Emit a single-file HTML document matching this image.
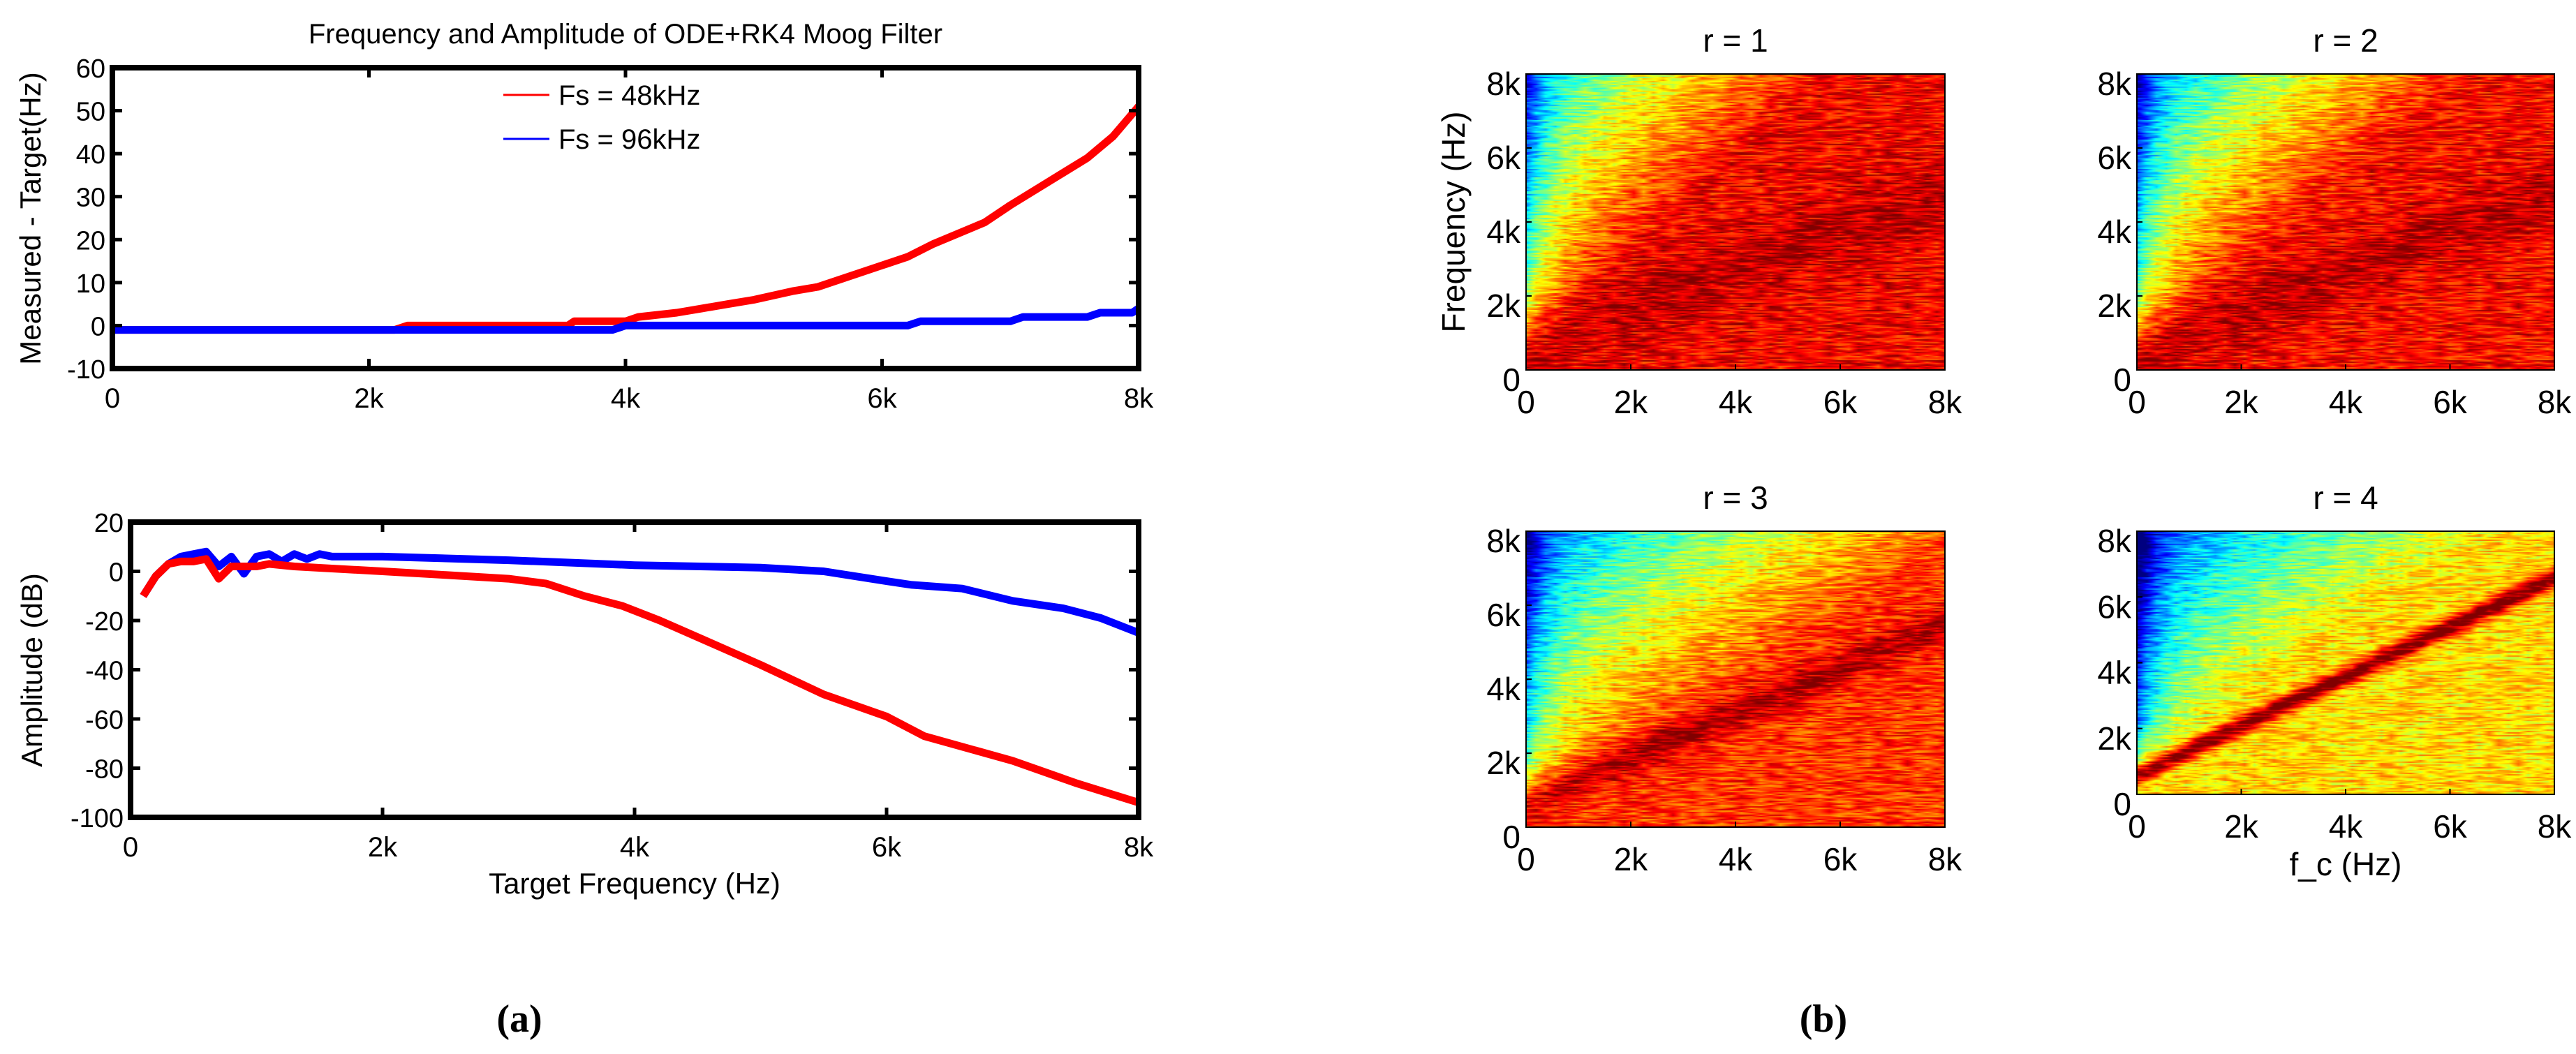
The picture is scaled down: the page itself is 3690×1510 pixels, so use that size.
<!DOCTYPE html>
<html><head><meta charset="utf-8">
<style>
html,body{margin:0;padding:0;background:#fff;}
#root{position:relative;width:3690px;height:1510px;overflow:hidden;background:#fff;font-family:"Liberation Sans",sans-serif;}
canvas{position:absolute;}
svg{position:absolute;left:0;top:0;}
</style></head>
<body>
<div id="root">
<canvas id="c1"></canvas>
<canvas id="c2"></canvas>
<canvas id="c3"></canvas>
<canvas id="c4"></canvas>
<svg id="svg" width="3690" height="1510" xmlns="http://www.w3.org/2000/svg"></svg>
</div>
<script>
// ---- chart (a) top: Measured - Target ----
const topX48 = [0,2.2,2.3,3.55,3.6,4.0,4.1,4.4,4.6,4.8,5.0,5.3,5.5,6.0,6.2,6.4,6.8,7.0,7.6,7.8,8.0];
const topY48 = [-1,-1,0,0,1,1,2,3,4,5,6,8,9,14,16,19,24,28,39,44,51];
const topX96 = [0,3.9,4.0,6.2,6.3,7.0,7.1,7.6,7.7,7.95,8.0];
const topY96 = [-1,-1,0,0,1,1,2,2,3,3,4];
const topYTicks = [60,50,40,30,20,10,0,-10];
const xTicks = [0,2,4,6,8];
const xTickLabels = ["0","2k","4k","6k","8k"];
// ---- chart (a) bottom: Amplitude ----
const botX48 = [0.1,0.2,0.3,0.4,0.5,0.6,0.7,0.8,1.0,1.1,1.3,2.0,2.5,3.0,3.3,3.6,3.9,4.2,4.6,5.0,5.5,6.0,6.3,7.0,7.5,8.0];
const botY48 = [-10,-2,3,4,4,5,-3,2,2,3,2,0,-1.5,-3,-5,-10,-14,-20,-29,-38,-50,-59,-67,-77,-86,-94];
const botX96 = [0.1,0.2,0.3,0.4,0.5,0.6,0.7,0.8,0.9,1.0,1.1,1.2,1.3,1.4,1.5,1.6,2.0,3.0,4.0,5.0,5.5,6.0,6.2,6.6,7.0,7.4,7.7,8.0];
const botY96 = [-10,-2,3,6,7,8,2,6,-1,6,7,4,7,5,7,6,6,4.5,2.5,1.5,0,-4,-5.5,-7,-12,-15,-19,-25];
const botYTicks = [20,0,-20,-40,-60,-80,-100];
// ---- chart (b): spectrogram model parameters per r ----
const rValues = [1,2,3,4];
const ridgeOffset = [0.8,0.5,0.7,0.6];
const ridgeSlope = [0.5,0.55,0.6,0.75];
const ridgeAmp = [0.06,0.07,0.14,0.36];
const ridgeWidth = [1.0,0.9,0.5,0.3];
const baseHigh = [0.88,0.87,0.82,0.66];
const edgeOffset = [0.5,0.3,0.3,1.0];
const edgeSlope = [1.3,1.2,0.9,1.0];
const aboveFall = [0.065,0.07,0.07,0.06];
const blueStrength = [0.3,0.3,0.3,0.35];
const specTicks = [0,2,4,6,8];

const svg = document.getElementById('svg');
const NS = 'http://www.w3.org/2000/svg';
function mk(tag, attrs, parent){ const e=document.createElementNS(NS,tag); for(const k in attrs) e.setAttribute(k,attrs[k]); (parent||svg).appendChild(e); return e; }
function txt(s, attrs){ const e=mk('text',attrs); e.textContent=s; return e; }

function lineChart(box, ymin, ymax, yTicks, series, name){
  const sx = v => box.l + (v/8)*(box.r-box.l);
  const sy = v => box.b - (v-ymin)/(ymax-ymin)*(box.b-box.t);
  const g = mk('g',{});
  
  
  series.forEach(s=>{
    const pts = s.x.map((x,i)=>sx(x).toFixed(1)+','+sy(s.y[i]).toFixed(1)).join(' ');
    const p = mk('polyline',{points:pts,fill:'none',stroke:s.c,'stroke-width':11,'stroke-linejoin':'round'},g);
    
    
  });
  xTicks.forEach((t,i)=>{
    const x=sx(t);
    mk('line',{x1:x,x2:x,y1:box.b,y2:box.b-14,stroke:'#000','stroke-width':5},g);
    mk('line',{x1:x,x2:x,y1:box.t,y2:box.t+14,stroke:'#000','stroke-width':5},g);
    const e=txt(xTickLabels[i],{x:x,y:box.b+56,'font-size':40,'text-anchor':'middle'});
    
    
  });
  yTicks.forEach(t=>{
    const y=sy(t);
    mk('line',{x1:box.l,x2:box.l+14,y1:y,y2:y,stroke:'#000','stroke-width':5},g);
    mk('line',{x1:box.r,x2:box.r-14,y1:y,y2:y,stroke:'#000','stroke-width':5},g);
    const e=txt(String(t),{x:box.l-10,y:y+14,'font-size':38,'text-anchor':'end'});
    
    
  });
  mk('rect',{x:box.l,y:box.t,width:box.r-box.l,height:box.b-box.t,fill:'none',stroke:'#000','stroke-width':8},g);
}

const t1=txt('Frequency and Amplitude of ODE+RK4 Moog Filter',{x:896,y:62,'font-size':40,'text-anchor':'middle'});



lineChart({l:161,r:1631,t:97,b:528},-10,60,topYTicks,[
  {x:topX48,y:topY48,c:'#ff0000',n:'line-48khz'},
  {x:topX96,y:topY96,c:'#0000ff',n:'line-96khz'}],'frequency-error-plot');
lineChart({l:187,r:1631,t:748,b:1171},-100,20,botYTicks,[
  {x:botX96,y:botY96,c:'#0000ff',n:'amp-line-96khz'},
  {x:botX48,y:botY48,c:'#ff0000',n:'amp-line-48khz'}],'amplitude-plot');

// legend
const lg = mk('g',{});


mk('line',{x1:721,x2:787,y1:136,y2:136,stroke:'#ff0000','stroke-width':3},lg);
mk('line',{x1:721,x2:787,y1:199,y2:199,stroke:'#0000ff','stroke-width':3},lg);
const l1=txt('Fs = 48kHz',{x:800,y:150,'font-size':40}); lg.appendChild(l1);


const l2=txt('Fs = 96kHz',{x:800,y:213,'font-size':40}); lg.appendChild(l2);



const ya=txt('Measured - Target(Hz)',{x:0,y:0,'font-size':42,'text-anchor':'middle',transform:'translate(58,313) rotate(-90)'});


const yb=txt('Amplitude (dB)',{x:0,y:0,'font-size':42,'text-anchor':'middle',transform:'translate(60,960) rotate(-90)'});


const xa=txt('Target Frequency (Hz)',{x:909,y:1280,'font-size':42,'text-anchor':'middle'});


const pa=txt('(a)',{x:744,y:1478,'font-size':56,'font-weight':'bold','text-anchor':'middle','font-family':'Liberation Serif, serif'});


const pb=txt('(b)',{x:2612,y:1478,'font-size':56,'font-weight':'bold','text-anchor':'middle','font-family':'Liberation Serif, serif'});



// spectrograms
const boxes = [
  {l:2186,r:2786,t:106,b:530},
  {l:3061,r:3659,t:106,b:530},
  {l:2186,r:2786,t:761,b:1185},
  {l:3061,r:3659,t:761,b:1138}];
function jet(v){
  v=Math.max(0,Math.min(1,v));
  const r=Math.max(0,Math.min(1,1.5-Math.abs(4*v-3)));
  const g=Math.max(0,Math.min(1,1.5-Math.abs(4*v-2)));
  const b=Math.max(0,Math.min(1,1.5-Math.abs(4*v-1)));
  return [r*255,g*255,b*255];
}
function hash(a,b){ let h=(a*374761393 + b*668265263)|0; h=(h^(h>>>13))*1274126177|0; h=h^(h>>>16); return ((h>>>0)%10000)/10000; }
rValues.forEach((r,i)=>{
  const bx=boxes[i], W=bx.r-bx.l, H=bx.b-bx.t;
  const cv=document.getElementById('c'+(i+1));
  cv.width=W; cv.height=H; cv.style.left=bx.l+'px'; cv.style.top=bx.t+'px';
  const ctx=cv.getContext('2d'); const img=ctx.createImageData(W,H); const d=img.data;
  for(let py=0;py<H;py++){
    const row=Math.floor(py/2);
    const yk=8*(1-py/H);
    for(let px=0;px<W;px++){
      const xk=8*px/W;
      const seg=px/14, s0=Math.floor(seg), f=seg-s0;
      const n=(hash(s0,row)*(1-f)+hash(s0+1,row)*f)-0.5;
      const dr=yk-(ridgeOffset[i]+ridgeSlope[i]*xk);
      const de=yk-(edgeOffset[i]+edgeSlope[i]*xk);
      let v=baseHigh[i]-aboveFall[i]*Math.max(0,de);
      v-=blueStrength[i]*Math.exp(-xk/0.5)*Math.max(0,Math.min(1,(yk-0.3)/2));
      v+=ridgeAmp[i]*Math.exp(-(dr/ridgeWidth[i])*(dr/ridgeWidth[i]));
      v+=n*0.22;
      const c=jet(v); const k=(py*W+px)*4;
      d[k]=c[0]; d[k+1]=c[1]; d[k+2]=c[2]; d[k+3]=255;
    }
  }
  ctx.putImageData(img,0,0);
  const g=mk('g',{});
  
  
  mk('rect',{x:bx.l,y:bx.t,width:W,height:H,fill:'none',stroke:'#000','stroke-width':2},g);
  specTicks.forEach((t,j)=>{
    const x=bx.l+t/8*W, y=bx.b-t/8*H;
    mk('line',{x1:x,x2:x,y1:bx.b,y2:bx.b-8,stroke:'#000','stroke-width':2},g);
    mk('line',{x1:bx.l,x2:bx.l+8,y1:y,y2:y,stroke:'#000','stroke-width':2},g);
    const ex=txt(xTickLabels[j],{x:x,y:bx.b+62,'font-size':46,'text-anchor':'middle'});
    
    
    const ey=txt(xTickLabels[j],{x:bx.l-8,y:y+30,'font-size':46,'text-anchor':'end'});
    
    
  });
  const tt=txt('r = '+r,{x:(bx.l+bx.r)/2,y:bx.t-32,'font-size':46,'text-anchor':'middle'});
  
  
});
const fy=txt('Frequency (Hz)',{x:0,y:0,'font-size':46,'text-anchor':'middle',transform:'translate(2098,318) rotate(-90)'});


const fx=txt('f_c (Hz)',{x:3360,y:1254,'font-size':46,'text-anchor':'middle'});


</script>
</body></html>
